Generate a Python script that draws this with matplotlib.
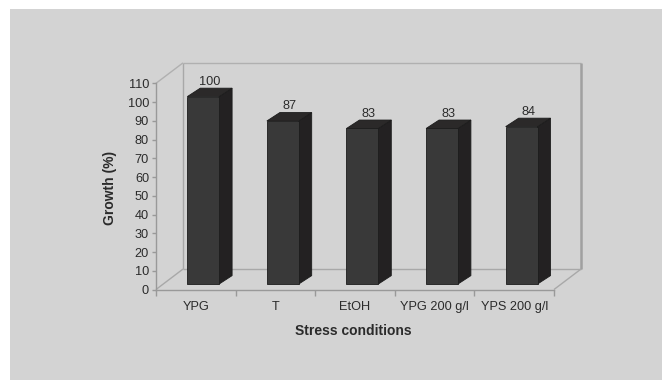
import matplotlib
matplotlib.use("Agg")
import matplotlib.pyplot as plt
from matplotlib.patches import Polygon, Rectangle
from matplotlib.lines import Line2D

# Data
categories = ["YPG", "T", "EtOH", "YPG 200 g/l", "YPS 200 g/l"]
growth = [100, 87, 83, 83, 84]
yticks = list(range(0, 111, 10))

plt.rcParams["font.family"] = ["Liberation Sans", "DejaVu Sans"]

W, H = 662, 380
fig = plt.figure(figsize=(W / 100, H / 100), dpi=100, facecolor="white")

BG = "#d3d3d3"
LINE = "#a8a8a8"
TXT = "#2b2b2b"

# grey panel with a thin white margin at top and left
fig.patches.append(Rectangle((10 / W, 0), 1 - 10 / W, 1 - 9 / H,
                             transform=fig.transFigure, facecolor=BG,
                             edgecolor="none", zorder=-10))

# front plane of the plot area
left, right = 156 / W, 554 / W
bottom, top = (H - 289.5) / H, (H - 83.3) / H
ax = fig.add_axes([left, bottom, right - left, top - bottom])
ax.set_zorder(1)
ax.set_facecolor("none")
ax.set_xlim(-0.5, len(categories) - 0.5)
ax.set_ylim(0, 110)

# depth of the box (walls) and of the bars, in data units
DX, DY = 0.339, 10.9
OX, OY = 0.093, 2.9
BW = 0.40
BDX, BDY = 0.163, 4.5

x0w, x1w = -0.5, len(categories) - 0.5

def seg(xs, ys, color=LINE, lw=1.0, z=1):
    ax.add_line(Line2D(xs, ys, color=color, lw=lw, clip_on=False, zorder=z,
                       solid_capstyle="butt"))

# back wall
seg([x0w + DX, x1w + DX], [DY, DY])
seg([x0w + DX, x1w + DX], [110 + DY, 110 + DY], color="#b0b0b0")
seg([x0w + DX, x0w + DX], [DY, 110 + DY])
seg([x1w + DX, x1w + DX], [DY, 110 + DY], color="#a0a0a0", lw=1.8)
# side wall / floor edges
seg([x0w, x0w + DX], [110, 110 + DY], color="#b0b0b0")
seg([x0w, x0w + DX], [0, DY])
seg([x1w, x1w + DX], [0, DY])

# bars
FRONT, SIDE, TOPC, EDGE = "#393939", "#232122", "#2b2929", "#1c1c1c"
for i, v in enumerate(growth):
    xa = i - BW / 2 + OX
    xb = xa + BW
    ya, yb = OY, OY + v
    ax.add_patch(Polygon([(xb, ya), (xb + BDX, ya + BDY), (xb + BDX, yb + BDY), (xb, yb)],
                         closed=True, facecolor=SIDE, edgecolor=EDGE, lw=0.6,
                         clip_on=False, zorder=3))
    ax.add_patch(Polygon([(xa, yb), (xb, yb), (xb + BDX, yb + BDY), (xa + BDX, yb + BDY)],
                         closed=True, facecolor=TOPC, edgecolor=EDGE, lw=0.6,
                         clip_on=False, zorder=3))
    ax.add_patch(Rectangle((xa, ya), BW, v, facecolor=FRONT, edgecolor=EDGE,
                           lw=0.6, clip_on=False, zorder=4))
    ax.annotate(f"{v}", (i + OX + BDX / 2, yb + BDY), xytext=(0, 2.5),
                textcoords="offset points", ha="center", va="baseline",
                fontsize=9.2, color=TXT, annotation_clip=False, zorder=5)

# axes styling
for s in ("top", "right"):
    ax.spines[s].set_visible(False)
for s in ("left", "bottom"):
    ax.spines[s].set_color("#999999")
    ax.spines[s].set_linewidth(1.0)

ax.set_yticks(yticks)
ax.set_yticklabels([str(t) for t in yticks])
ax.tick_params(axis="y", direction="out", length=3, width=1, color="#999999",
               pad=2, labelsize=9.2, labelcolor=TXT)

ax.set_xticks(range(len(categories)))
ax.set_xticklabels(categories)
ax.set_xticks([k - 0.5 for k in range(len(categories) + 1)], minor=True)
ax.tick_params(axis="x", which="major", length=0, pad=8, labelsize=9.2, labelcolor=TXT)
ax.tick_params(axis="x", which="minor", direction="out", length=4.5, width=1,
               color="#999999")

fig.text(353.7 / W, 1 - 331 / H, "Stress conditions", ha="center", va="center",
         fontsize=10, fontweight="bold", color=TXT)
fig.text(110 / W, 1 - 188 / H, "Growth (%)", ha="center", va="center",
         rotation=90, fontsize=10, fontweight="bold", color=TXT)

fig.savefig("out.png", dpi=100, facecolor="white")
